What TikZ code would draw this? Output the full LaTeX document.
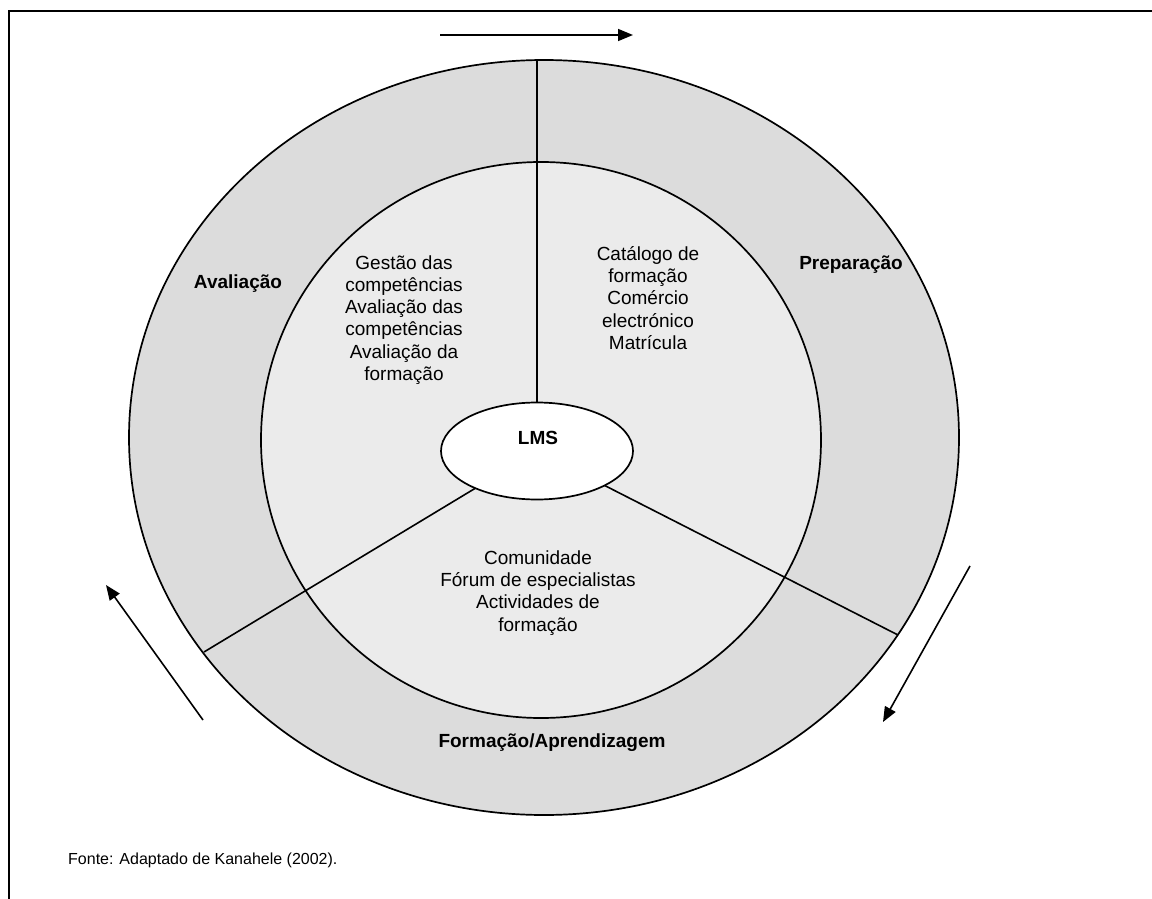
\documentclass[tikz,border=0pt]{standalone}
\usepackage{fontspec}
\setmainfont{Liberation Sans}
\usetikzlibrary{arrows.meta,shapes.geometric}
\definecolor{ringgray}{HTML}{DCDCDC}
\definecolor{coregray}{HTML}{EBEBEB}
\begin{document}
\begin{tikzpicture}[x=1pt,y=-1pt,
  rim/.style={draw=black,line width=1.7pt},
  divider/.style={draw=black,line width=1.6pt},
  flow/.style={draw=black,line width=1.6pt,-{Triangle[length=15pt,width=12pt]}},
  body/.style={font=\fontsize{19}{22.2}\selectfont,align=center,inner sep=0pt},
  phase/.style={font=\fontsize{19}{22.2}\selectfont\bfseries,inner sep=0pt},
  note/.style={font=\fontsize{16}{19}\selectfont,inner sep=0pt}]
\useasboundingbox (0,0) rectangle (1152,899);
% frame
\draw[line width=2pt] (9,899) -- (9,11) -- (1152,11);
% rings
\node[rim,ellipse,fill=ringgray,minimum width=830,minimum height=755,inner sep=0pt,outer sep=0pt] (outer) at (544,437.5) {};
\node[rim,ellipse,fill=coregray,minimum width=560,minimum height=556,inner sep=0pt,outer sep=0pt] (inner) at (541,440) {};
% sector ends on the outer rim
\coordinate (cutTop) at (537,60);
\coordinate (cutLeft) at (204,652);
\coordinate (cutRight) at (898,635);
\node[ellipse,minimum width=192,minimum height=97,inner sep=0pt,outer sep=0pt] (lms) at (537,451) {};
\draw[divider] (lms.north) -- (cutTop);
\draw[divider] (lms) -- (cutLeft);
\draw[divider] (lms) -- (cutRight);
\node[rim,ellipse,fill=white,minimum width=192,minimum height=97,inner sep=0pt,outer sep=0pt] at (537,451) {};
\node[phase] (lmslabel) at (538,438) {LMS};
% phase labels
\node[phase] (aval) at (238,284) {Avaliação};
\node[phase] (prep) at (851,265) {Preparação};
\node[phase] (form) at (552,743) {Formação/Aprendizagem};
% sector contents
\node[body] (left) at (404,320) {Gestão das\\competências\\Avaliação das\\competências\\Avaliação da\\formação};
\node[body] (right) at (648,298) {Catálogo de\\formação\\Comércio\\electrónico\\Matrícula};
\node[body] (bottom) at (538,593) {Comunidade\\Fórum de especialistas\\Actividades de\\formação};
% cycle arrows
\coordinate (a1s) at (440,35);
\coordinate (a1e) at (633,35);
\coordinate (a2s) at (970,566);
\coordinate (a2e) at (883,722);
\coordinate (a3s) at (203,720);
\coordinate (a3e) at (106,585);
\draw[flow] (a1s) -- (a1e);
\draw[flow] (a2s) -- (a2e);
\draw[flow] (a3s) -- (a3e);
% source
\node[note,anchor=west] (src) at (68,860) {Fonte: Adaptado de Kanahele (2002).};
\end{tikzpicture}
\end{document}
